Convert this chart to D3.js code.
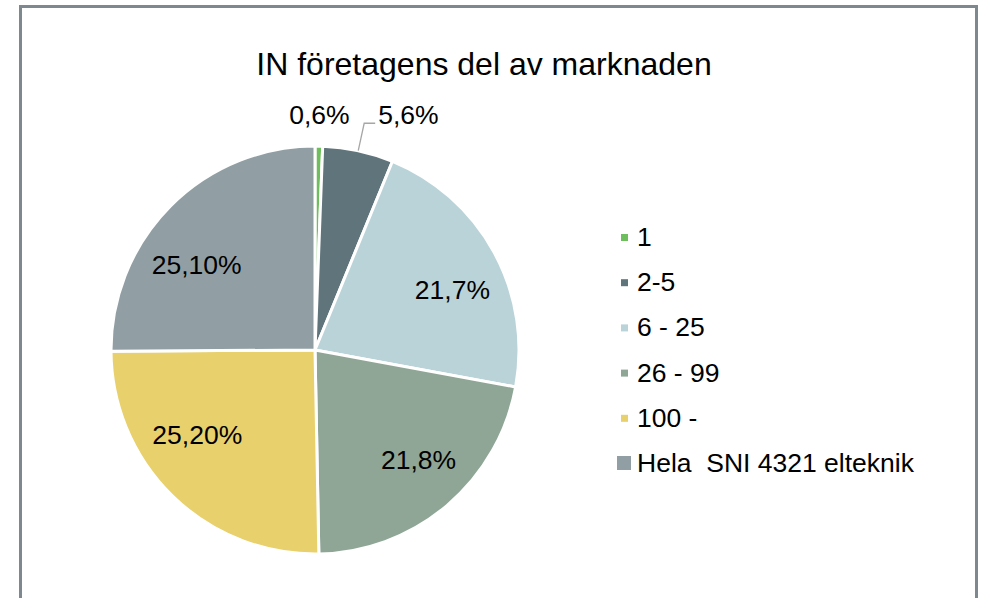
<!DOCTYPE html>
<html>
<head>
<meta charset="utf-8">
<script src="https://cdn.jsdelivr.net/npm/d3@7"></script>
<style>
  body { margin: 0; background: #fff; }
  text { font-family: "Liberation Sans", Arial, sans-serif; fill: #000; white-space: pre; }
</style>
</head>
<body>
<div id="chart"></div>
<script>
// data
var categories = ["1", "2-5", "6 - 25", "26 - 99", "100 -", "Hela  SNI 4321 elteknik"];
var values = [0.6, 5.6, 21.7, 21.8, 25.2, 25.1];
var labels = ["0,6%", "5,6%", "21,7%", "21,8%", "25,20%", "25,10%"];
var colors = ["#6fbe5d", "#5f747b", "#bad3d8", "#8fa696", "#e8d06c", "#919fa4"];

// label placement tweaks (angle nudge in degrees, radius)
var labelNudge = [0, 0, 5, -3, 10, -9];
var labelRadius = [235, 232, 150, 151, 145, 146];

var width = 984, height = 598;
var cx = 315, cy = 350, radius = 204;

var svg = d3.select("#chart")
    .append("svg")
    .attr("width", width)
    .attr("height", height);

// frame
svg.append("rect")
    .attr("x", 20.5)
    .attr("y", 6.5)
    .attr("width", 956)
    .attr("height", 620)
    .attr("fill", "#fff")
    .attr("stroke", "#7d898f")
    .attr("stroke-width", 3);

svg.append("text")
    .attr("x", 484)
    .attr("y", 75)
    .attr("text-anchor", "middle")
    .style("font-size", "32px")
    .text("IN företagens del av marknaden");

var data = categories.map(function(c, i) { return { cat: c, value: values[i], label: labels[i], i: i }; });

var pie = d3.pie()
    .sort(null)
    .value(function(d) { return d.value; });

var arc = d3.arc().innerRadius(0).outerRadius(radius);

var arcs = pie(data);

var g = svg.append("g")
    .attr("transform", "translate(" + cx + "," + cy + ")");

g.selectAll(".slice")
    .data(arcs)
    .enter()
    .append("path")
    .attr("class", "slice")
    .attr("d", arc)
    .attr("fill", function(d) { return colors[d.data.i]; })
    .attr("stroke", "#fff")
    .attr("stroke-width", 3)
    .attr("stroke-linejoin", "round");

function polar(a, r) {
    return [r * Math.sin(a), -r * Math.cos(a)];
}

arcs.forEach(function(d) {
    var i = d.data.i;
    var mid = (d.startAngle + d.endAngle) / 2 + labelNudge[i] * Math.PI / 180;
    var p = polar(mid, labelRadius[i]);
    if (i === 1) {
        // leader line for the small outside label
        var p0 = polar(mid, radius);
        g.append("path")
            .attr("d", "M" + p0[0] + "," + p0[1] + "L" + p[0] + "," + p[1] + "L" + (p[0] + 11) + "," + p[1])
            .attr("fill", "none")
            .attr("stroke", "#a6a6a6")
            .attr("stroke-width", 1.3);
        g.append("text")
            .attr("x", p[0] + 14)
            .attr("y", p[1] + 1)
            .style("font-size", "26.5px")
            .text(d.data.label);
    } else {
        g.append("text")
            .attr("x", p[0])
            .attr("y", p[1])
            .attr("dy", "0.35em")
            .attr("text-anchor", "middle")
            .style("font-size", "26.5px")
            .text(d.data.label);
    }
});

// legend
var legend = svg.append("g").attr("transform", "translate(637,246)");
var row = legend.selectAll(".row")
    .data(categories)
    .enter()
    .append("g")
    .attr("class", "row")
    .attr("transform", function(d, i) { return "translate(0," + (i * 45.2) + ")"; });

row.append("rect")
    .attr("x", function(d, i) { return i === 5 ? -20 : -16; })
    .attr("y", function(d, i) { return i === 5 ? -16 : -12; })
    .attr("width", function(d, i) { return i === 5 ? 14 : 7; })
    .attr("height", function(d, i) { return i === 5 ? 14 : 7; })
    .attr("fill", function(d, i) { return colors[i]; });

row.append("text")
    .attr("x", 0)
    .attr("y", 0)
    .style("font-size", "26.5px")
    .text(function(d) { return d; });
</script>
</body>
</html>
